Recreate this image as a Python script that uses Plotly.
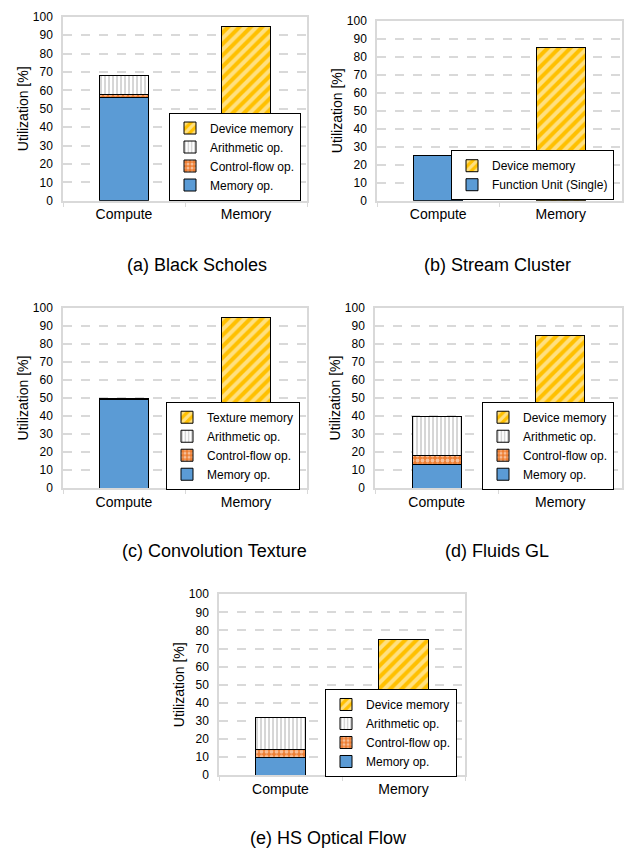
import plotly.graph_objects as go

# Shared categories
categories = ["Compute", "Memory"]
y_ticks = list(range(0, 101, 10))

# (a) Black Scholes
bs_memory_op = 56
bs_control_flow = 2
bs_arithmetic = 10
bs_device_memory = 95

# (b) Stream Cluster
sc_function_unit = 25
sc_device_memory = 85

# (c) Convolution Texture
ct_memory_op = 49
ct_control_flow = 0.4
ct_arithmetic = 0.6
ct_texture_memory = 95

# (d) Fluids GL
fg_memory_op = 13
fg_control_flow = 5
fg_arithmetic = 22
fg_device_memory = 85

# (e) HS Optical Flow
hs_memory_op = 10
hs_control_flow = 4
hs_arithmetic = 18
hs_device_memory = 75

captions = ["(a) Black Scholes", "(b) Stream Cluster", "(c) Convolution Texture",
            "(d) Fluids GL", "(e) HS Optical Flow"]

W, H = 631, 860
FONT = "Liberation Sans, Arial, sans-serif"
BLUE = "#5B9BD5"
ORANGE = "#ED7D31"
GRAY = "#A5A5A5"
YELLOW = "#FFC000"
GRID = "#D9D9D9"

STYLES = {
    "memory_op": dict(color=BLUE),
    "function_unit": dict(color=BLUE),
    "control_flow": dict(color=ORANGE,
                         pattern=dict(shape=".", fgcolor="white", bgcolor=ORANGE,
                                      size=5, solidity=0.45)),
    "arithmetic": dict(color=GRAY,
                       pattern=dict(shape="|", fgcolor=GRAY, bgcolor="white",
                                    size=4, solidity=0.45)),
    "device_memory": dict(color=YELLOW,
                          pattern=dict(shape="/", fgcolor="white", bgcolor=YELLOW,
                                       size=8, solidity=0.5)),
}

# Each panel: traces as (legend name, style key, category, value), plot box in px,
# legend right edge / vertical centre, caption centre
panels = [
    dict(traces=[("Memory op.", "memory_op", "Compute", bs_memory_op),
                 ("Control-flow op.", "control_flow", "Compute", bs_control_flow),
                 ("Arithmetic op.", "arithmetic", "Compute", bs_arithmetic),
                 ("Device memory", "device_memory", "Memory", bs_device_memory)],
         box=(63, 307, 10, 197), legend=(301, 152), caption=(197, 262)),
    dict(traces=[("Function Unit (Single)", "function_unit", "Compute", sc_function_unit),
                 ("Device memory", "device_memory", "Memory", sc_device_memory)],
         box=(377, 622, 14, 197), legend=(614, 171), caption=(497, 262)),
    dict(traces=[("Memory op.", "memory_op", "Compute", ct_memory_op),
                 ("Control-flow op.", "control_flow", "Compute", ct_control_flow),
                 ("Arithmetic op.", "arithmetic", "Compute", ct_arithmetic),
                 ("Texture memory", "device_memory", "Memory", ct_texture_memory)],
         box=(63, 307, 306, 489), legend=(300, 446), caption=(215, 553)),
    dict(traces=[("Memory op.", "memory_op", "Compute", fg_memory_op),
                 ("Control-flow op.", "control_flow", "Compute", fg_control_flow),
                 ("Arithmetic op.", "arithmetic", "Compute", fg_arithmetic),
                 ("Device memory", "device_memory", "Memory", fg_device_memory)],
         box=(375, 622, 306, 489), legend=(614, 446), caption=(497, 553)),
    dict(traces=[("Memory op.", "memory_op", "Compute", hs_memory_op),
                 ("Control-flow op.", "control_flow", "Compute", hs_control_flow),
                 ("Arithmetic op.", "arithmetic", "Compute", hs_arithmetic),
                 ("Device memory", "device_memory", "Memory", hs_device_memory)],
         box=(219, 465, 597, 781), legend=(457, 738), caption=(328, 845)),
]

fig = go.Figure()
layout = dict(
    width=W, height=H,
    margin=dict(l=0, r=0, t=0, b=0),
    paper_bgcolor="white", plot_bgcolor="white",
    barmode="stack",
    font=dict(family=FONT, color="#000000"),
    annotations=[],
)

for i, p in enumerate(panels):
    n = i + 1
    xa = "x" if n == 1 else f"x{n}"
    ya = "y" if n == 1 else f"y{n}"
    lg = "legend" if n == 1 else f"legend{n}"
    for name, key, cat, val in p["traces"]:
        st = STYLES[key]
        marker = dict(color=st["color"], line=dict(color="black", width=1))
        if "pattern" in st:
            marker["pattern"] = st["pattern"]
        fig.add_trace(go.Bar(
            x=[cat], y=[val], name=name, marker=marker, width=0.4,
            xaxis=xa, yaxis=ya, legend=lg, showlegend=True,
            hoverinfo="skip",
        ))
    x0, x1, y0, y1 = p["box"]
    xk = "xaxis" if n == 1 else f"xaxis{n}"
    yk = "yaxis" if n == 1 else f"yaxis{n}"
    layout[xk] = dict(
        domain=[x0 / W, x1 / W], anchor=ya,
        categoryorder="array", categoryarray=categories, range=[-0.5, 1.5],
        showline=True, linecolor=GRID, linewidth=1.5, mirror=True,
        ticks="outside", tickson="boundaries", ticklen=4, tickcolor=GRID,
        tickfont=dict(size=14, family=FONT), showgrid=False,
    )
    layout[yk] = dict(
        domain=[1 - y1 / H, 1 - y0 / H], anchor=xa,
        range=[0, 100], tickvals=y_ticks,
        showline=True, linecolor=GRID, linewidth=1.5, mirror=True,
        showgrid=True, gridcolor=GRID, gridwidth=1.5, griddash="dash",
        zeroline=False, ticks="", ticklabelstandoff=6,
        tickfont=dict(size=12, family=FONT),
        title=dict(text="Utilization [%]", font=dict(size=14, family=FONT), standoff=1),
    )
    lx, ly = p["legend"]
    layout[lg] = dict(
        x=lx / W, y=1 - ly / H, xanchor="right", yanchor="middle",
        bgcolor="white", bordercolor="black", borderwidth=1,
        traceorder="reversed", font=dict(size=12, family=FONT),
        itemwidth=30, tracegroupgap=0,
    )
    cx, cy = p["caption"]
    layout["annotations"].append(dict(
        text=captions[i], xref="paper", yref="paper",
        x=cx / W, y=1 - cy / H,
        xanchor="center", yanchor="middle", showarrow=False,
        font=dict(size=18, family=FONT),
    ))

fig.update_layout(**layout)
fig.write_html("out.html")
